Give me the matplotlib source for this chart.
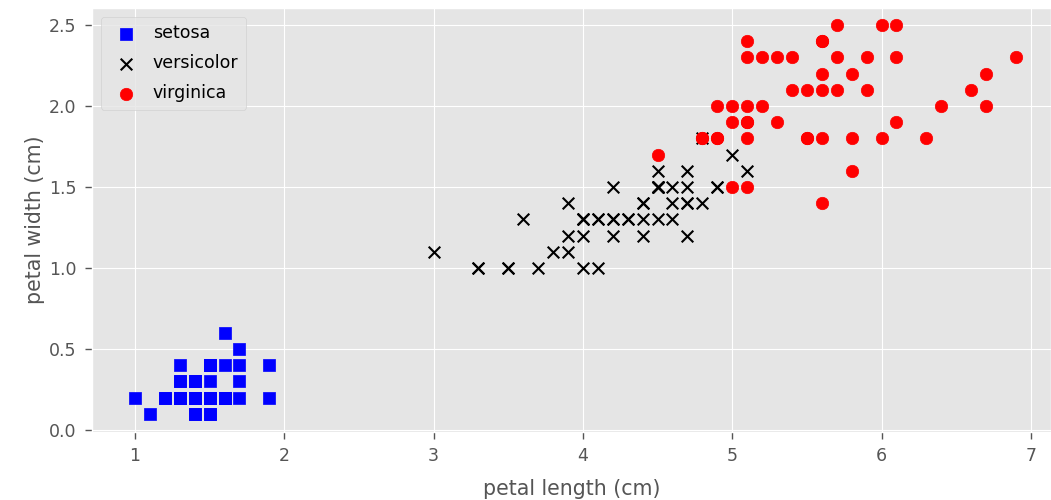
import matplotlib
matplotlib.use("Agg")
import matplotlib.pyplot as plt

plt.style.use("ggplot")

setosa_length = [1.4, 1.4, 1.3, 1.5, 1.4, 1.7, 1.4, 1.5, 1.4, 1.5, 1.5, 1.6, 1.4, 1.1, 1.2, 1.5, 1.3,
                 1.4, 1.7, 1.5, 1.7, 1.5, 1.0, 1.7, 1.9, 1.6, 1.6, 1.5, 1.4, 1.6, 1.6, 1.5, 1.5, 1.4,
                 1.5, 1.2, 1.3, 1.4, 1.3, 1.5, 1.3, 1.3, 1.3, 1.6, 1.9, 1.4, 1.6, 1.4, 1.5, 1.4]
setosa_width = [0.2, 0.2, 0.2, 0.2, 0.2, 0.4, 0.3, 0.2, 0.2, 0.1, 0.2, 0.2, 0.1, 0.1, 0.2, 0.4, 0.4,
                0.3, 0.3, 0.3, 0.2, 0.4, 0.2, 0.5, 0.2, 0.2, 0.4, 0.2, 0.2, 0.2, 0.2, 0.4, 0.1, 0.2,
                0.2, 0.2, 0.2, 0.1, 0.2, 0.2, 0.3, 0.3, 0.2, 0.6, 0.4, 0.3, 0.2, 0.2, 0.2, 0.2]

versicolor_length = [4.7, 4.5, 4.9, 4.0, 4.6, 4.5, 4.7, 3.3, 4.6, 3.9, 3.5, 4.2, 4.0, 4.7, 3.6, 4.4,
                     4.5, 4.1, 4.5, 3.9, 4.8, 4.0, 4.9, 4.7, 4.3, 4.4, 4.8, 5.0, 4.5, 3.5, 3.8, 3.7,
                     3.9, 5.1, 4.5, 4.5, 4.7, 4.4, 4.1, 4.0, 4.4, 4.6, 4.0, 3.3, 4.2, 4.2, 4.2, 4.3,
                     3.0, 4.1]
versicolor_width = [1.4, 1.5, 1.5, 1.3, 1.5, 1.3, 1.6, 1.0, 1.3, 1.4, 1.0, 1.5, 1.0, 1.4, 1.3, 1.4,
                    1.5, 1.0, 1.5, 1.1, 1.8, 1.3, 1.5, 1.2, 1.3, 1.4, 1.4, 1.7, 1.5, 1.0, 1.1, 1.0,
                    1.2, 1.6, 1.5, 1.6, 1.5, 1.3, 1.3, 1.3, 1.2, 1.4, 1.2, 1.0, 1.3, 1.2, 1.3, 1.3,
                    1.1, 1.3]

virginica_length = [6.0, 5.1, 5.9, 5.6, 5.8, 6.6, 4.5, 6.3, 5.8, 6.1, 5.1, 5.3, 5.5, 5.0, 5.1, 5.3,
                    5.5, 6.7, 6.9, 5.0, 5.7, 4.9, 6.7, 4.9, 5.7, 6.0, 4.8, 4.9, 5.6, 5.8, 6.1, 6.4,
                    5.6, 5.1, 5.6, 6.1, 5.6, 5.5, 4.8, 5.4, 5.6, 5.1, 5.1, 5.9, 5.7, 5.2, 5.0, 5.2,
                    5.4, 5.1]
virginica_width = [2.5, 1.9, 2.1, 1.8, 2.2, 2.1, 1.7, 1.8, 1.8, 2.5, 2.0, 1.9, 2.1, 2.0, 2.4, 2.3,
                   1.8, 2.2, 2.3, 1.5, 2.3, 2.0, 2.0, 1.8, 2.1, 1.8, 1.8, 1.8, 2.1, 1.6, 1.9, 2.0,
                   2.2, 1.5, 1.4, 2.3, 2.4, 1.8, 1.8, 2.1, 2.4, 2.3, 1.9, 2.3, 2.5, 2.3, 1.9, 2.0,
                   2.3, 1.8]

fig = plt.figure(figsize=(10.51, 5.0), dpi=100)
ax = fig.add_axes([0.0875, 0.136, 0.9125, 0.848])

ax.scatter(setosa_length, setosa_width, color="blue", marker="s", s=70, label="setosa")
ax.scatter(versicolor_length, versicolor_width, color="black", marker="x", s=70,
           linewidths=1.5, label="versicolor")
ax.scatter(virginica_length, virginica_width, color="red", marker="o", s=80, label="virginica")

ax.set_xlim(0.712, 7.135)
ax.set_ylim(-0.013, 2.605)
ax.set_xticks([1, 2, 3, 4, 5, 6, 7])
ax.set_yticks([0.0, 0.5, 1.0, 1.5, 2.0, 2.5])
ax.tick_params(labelsize=12.5, colors="#555555", length=5, width=1, pad=6)
ax.set_xlabel("petal length (cm)", fontsize=14.8, color="#555555", labelpad=10)
ax.set_ylabel("petal width (cm)", fontsize=14.8, color="#555555", labelpad=3)
ax.legend(loc="upper left", fontsize=12.5, labelspacing=0.68, borderpad=0.45,
          handletextpad=0.55, bbox_to_anchor=(0.0, 1.0))

fig.savefig("out.png", dpi=100)
